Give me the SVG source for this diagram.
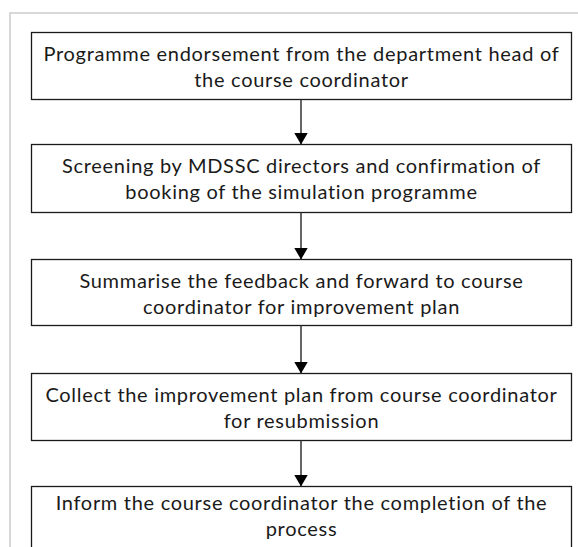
<svg xmlns="http://www.w3.org/2000/svg" width="578" height="547" viewBox="0 0 578 547">
<defs>
<style>
.frame{fill:none;stroke:#cccccc;stroke-width:1.5}
.box rect{fill:#ffffff;stroke:#1a1a1a;stroke-width:1.3}
.box text{font-family:Lato,"Open Sans","DejaVu Sans",sans-serif;font-size:20px;letter-spacing:0.7px;fill:#1a1a1a;text-anchor:middle}
.conn line{stroke:#333333;stroke-width:1.5}
</style>
<marker id="ah" viewBox="0 0 12 14" refX="12" refY="7" markerWidth="12" markerHeight="14" markerUnits="userSpaceOnUse" orient="auto">
<path d="M0,0 L12,7 L0,14 Z" fill="#000"/>
</marker>
</defs>
<rect width="578" height="547" fill="#ffffff"/>
<path class="frame" d="M10,547 L10,13 L578,13"/>
<g id="node1" class="box">
<rect x="31.5" y="32.5" width="540" height="67"/>
<text x="301.5" y="61">Programme endorsement from the department head of</text>
<text x="301.5" y="87">the course coordinator</text>
</g>
<g id="node2" class="box">
<rect x="31.5" y="144.5" width="540" height="68"/>
<text x="301.5" y="173">Screening by MDSSC directors and confirmation of</text>
<text x="301.5" y="199">booking of the simulation programme</text>
</g>
<g id="node3" class="box">
<rect x="31.5" y="259.5" width="540" height="66"/>
<text x="301.5" y="288">Summarise the feedback and forward to course</text>
<text x="301.5" y="314">coordinator for improvement plan</text>
</g>
<g id="node4" class="box">
<rect x="31.5" y="373.5" width="540" height="67"/>
<text x="301.5" y="402">Collect the improvement plan from course coordinator</text>
<text x="301.5" y="428">for resubmission</text>
</g>
<g id="node5" class="box">
<rect x="31.5" y="486.5" width="540" height="70"/>
<text x="301.5" y="510">Inform the course coordinator the completion of the</text>
<text x="301.5" y="536">process</text>
</g>
<g id="connectors" class="conn">
<line x1="301" y1="99.5" x2="301" y2="144.5" marker-end="url(#ah)"/>
<line x1="301" y1="212.5" x2="301" y2="259.5" marker-end="url(#ah)"/>
<line x1="301" y1="325.5" x2="301" y2="373.5" marker-end="url(#ah)"/>
<line x1="301" y1="440.5" x2="301" y2="486.5" marker-end="url(#ah)"/>
</g>
</svg>
